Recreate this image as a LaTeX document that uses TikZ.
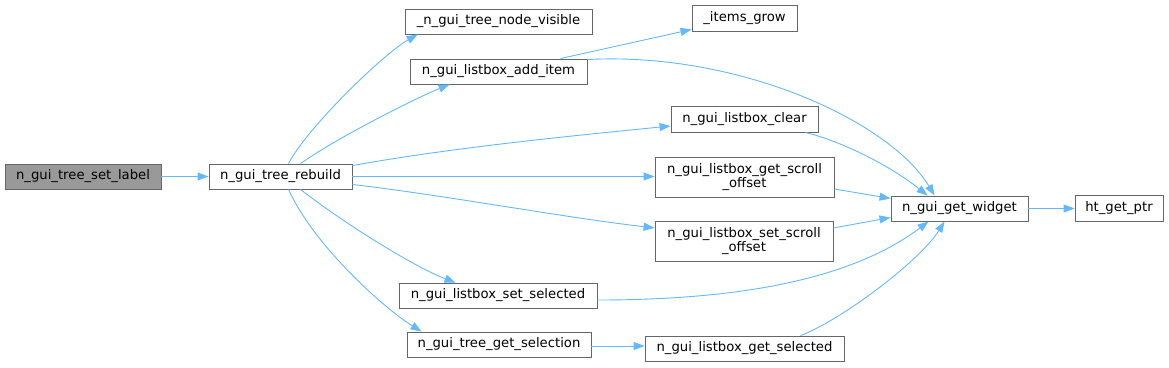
\documentclass[tikz,border=0pt]{standalone}
\usepackage{fontspec}
\setmainfont{DejaVu Sans}
\usetikzlibrary{arrows.meta,calc}
\begin{document}
\begin{tikzpicture}[x=1pt,y=-1pt,
  box/.style={draw=black!60,line width=0.9pt,fill=white,inner sep=0pt,align=center,
    font=\fontsize{13.2}{14}\selectfont,text=black},
  edge/.style={draw={rgb,255:red,99;green,184;blue,255},line width=0.9pt,
    -{Triangle[length=11pt,width=8pt]}}]
\useasboundingbox (0,0) rectangle (1169,367);
\node[box,fill=black!40,minimum width=156pt,minimum height=25pt] (sl) at (83,176.5) {n\_gui\_tree\_set\_label};
\node[box,minimum width=143pt,minimum height=25pt] (rb) at (280.5,176.5) {n\_gui\_tree\_rebuild};
\node[box,minimum width=187pt,minimum height=25pt] (nv) at (498.5,21.5) {\_n\_gui\_tree\_node\_visible};
\node[box,minimum width=177pt,minimum height=25pt] (ai) at (498.5,71.5) {n\_gui\_listbox\_add\_item};
\node[box,minimum width=105pt,minimum height=26pt] (ig) at (744.5,18) {\_items\_grow};
\node[box,minimum width=147pt,minimum height=26pt] (cl) at (744.5,119) {n\_gui\_listbox\_clear};
\node[box,minimum width=179pt,minimum height=40pt] (gs) at (744.5,177) {n\_gui\_listbox\_get\_scroll\\\_offset};
\node[box,minimum width=178pt,minimum height=40pt] (ss) at (744,241) {n\_gui\_listbox\_set\_scroll\\\_offset};
\node[box,minimum width=137pt,minimum height=25pt] (gw) at (959.5,208.5) {n\_gui\_get\_widget};
\node[box,minimum width=88pt,minimum height=26pt] (ht) at (1119,208) {ht\_get\_ptr};
\node[box,minimum width=198pt,minimum height=25pt] (sel) at (498,295.5) {n\_gui\_listbox\_set\_selected};
\node[box,minimum width=184pt,minimum height=25pt] (gsl) at (499,344.5) {n\_gui\_tree\_get\_selection};
\node[box,minimum width=199pt,minimum height=25pt] (gsd) at (744.5,348.5) {n\_gui\_listbox\_get\_selected};

\draw[edge] (sl.east) -- (rb.west);
\draw[edge] ($(rb.north)+(8,0)$) .. controls +(18,-35) and +(-35,20) .. ($(nv.south west)+(13,0)$);
\draw[edge] ($(rb.north)+(20,0)$) .. controls +(40,-28) and +(-30,12) .. ($(ai.south west)+(40,0)$);
\draw[edge] ($(rb.north east)+(0,2)$) .. controls +(100,-18) and +(-100,10) .. ($(cl.west)+(0,7)$);
\draw[edge] (rb.east) -- (rb.east -| gs.west);
\draw[edge] ($(rb.south east)+(0,-5)$) .. controls +(100,12) and +(-100,-12) .. ($(ss.west)+(0,-13)$);
\draw[edge] ($(rb.south)+(20,0)$) .. controls +(45,35) and +(-40,-15) .. ($(sel.north west)+(57,0)$);
\draw[edge] ($(rb.south)+(8,0)$) .. controls +(25,55) and +(-40,-25) .. ($(gsl.north west)+(15,0)$);
\draw[edge] ($(ai.north east)+(-27,0)$) -- ($(ig.south west)+(0,-2)$);
\draw[edge] ($(ai.north east)+(0,1)$) .. controls +(150,-8) and +(-45,-75) .. ($(gw.north west)+(44,0)$);
\draw[edge] ($(cl.south east)+(-13,0)$) .. controls +(40,10) and +(-35,-28) .. ($(gw.north west)+(37,0)$);
\draw[edge] ($(gs.east)+(0,12)$) -- ($(gw.west)+(0,-10)$);
\draw[edge] ($(ss.east)+(0,-13)$) -- ($(gw.west)+(0,9)$);
\draw[edge] ($(sel.east)+(0,4.5)$) .. controls +(180,0) and +(-60,45) .. ($(gw.south west)+(38,0)$);
\draw[edge] ($(gsd.north)+(56,0)$) .. controls +(40,-15) and +(-25,40) .. ($(gw.south west)+(54,0)$);
\draw[edge] ($(gsl.east)+(0,1.5)$) -- ($(gsd.west)+(0,-2.5)$);
\draw[edge] (gw.east) -- (gw.east -| ht.west);
\end{tikzpicture}
\end{document}
